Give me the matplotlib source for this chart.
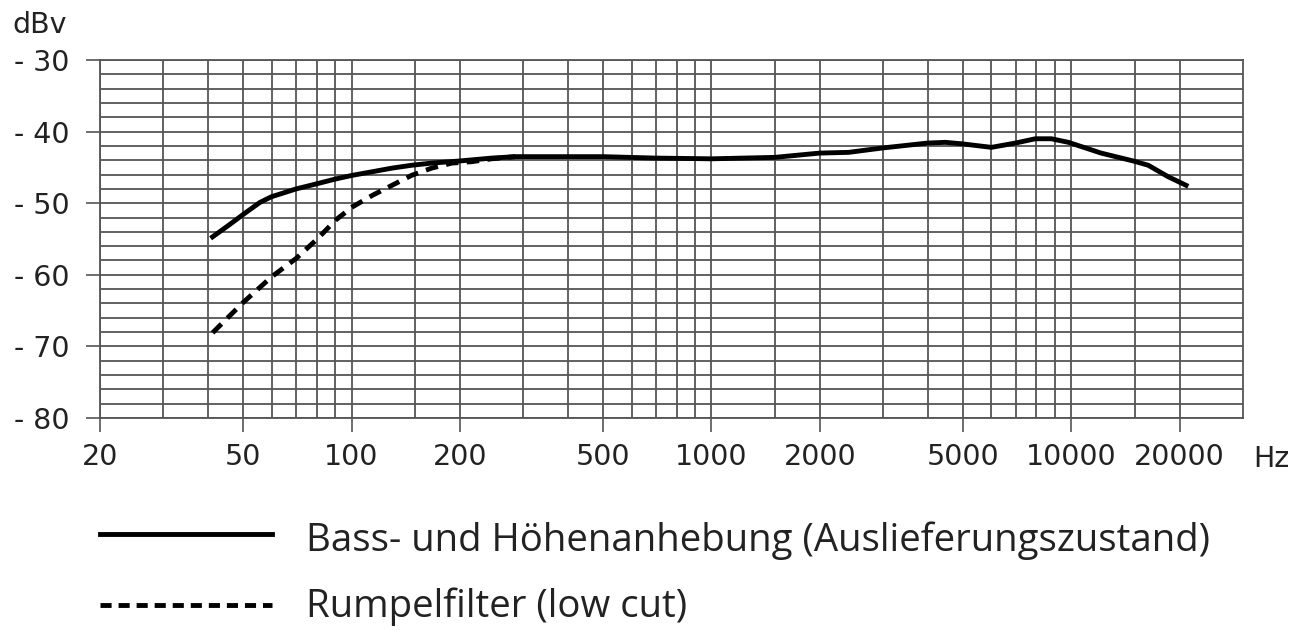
import matplotlib
matplotlib.use("Agg")
import matplotlib.pyplot as plt
from matplotlib.lines import Line2D
from matplotlib.ticker import FixedLocator, NullFormatter, FixedFormatter

plt.rcParams['font.family'] = ['DejaVu Sans']
plt.rcParams['lines.scale_dashes'] = False

# ---- data ----
freq_solid = [41.1, 45.5, 49.9, 55.6, 59.9, 70.2, 79.9, 90.6, 100.7, 114.3, 129.6, 147, 167,
              200, 245, 285, 300, 500, 700, 1000, 1500, 2000, 2406, 2972, 3988,
              4470, 4954, 6000, 6994, 7944, 8800, 9820, 12100, 14860, 16360, 18580, 20840]
db_solid = [-54.7, -53.1, -51.6, -49.9, -49.1, -48.0, -47.3, -46.6, -46.1, -45.6, -45.1, -44.7, -44.4,
            -44.1, -43.7, -43.5, -43.5, -43.5, -43.7, -43.8, -43.6, -43.0, -42.9, -42.3, -41.6,
            -41.5, -41.7, -42.2, -41.6, -41.0, -41.0, -41.5, -43.0, -44.1, -44.7, -46.3, -47.5]

freq_dash = [41.1, 49.9, 59.9, 70.2, 79.9, 90.6, 100.7, 114.3, 129.6, 147, 167, 190,
             216, 245, 285]
db_dash = [-68.1, -63.9, -60.3, -57.7, -55.1, -52.3, -50.5, -48.9, -47.5, -46.1, -45.1, -44.4,
           -44.2, -43.8, -43.5]

x_major = [20, 50, 100, 200, 500, 1000, 2000, 5000, 10000, 20000]
x_labels = ["20", "50", "100", "200", "500", "1000", "2000", "5000", "10000", "20000"]
x_minor = [30, 40, 60, 70, 80, 90, 150, 300, 400, 600, 700, 800, 900, 1500,
           3000, 4000, 6000, 7000, 8000, 9000, 15000]
y_major = [-30, -40, -50, -60, -70, -80]
y_labels = ["- 30", "- 40", "- 50", "- 60", "- 70", "- 80"]
y_minor = [v for v in range(-78, -30, 2) if v % 10 != 0]

legend_labels = ["Bass- und Höhenanhebung (Auslieferungszustand)", "Rumpelfilter (low cut)"]

# ---- figure ----
W, H = 1296, 634
fig = plt.figure(figsize=(W / 100, H / 100), dpi=100)
ax = fig.add_axes([100 / W, 1 - 418 / H, (1243 - 100) / W, (418 - 60) / H])

ax.set_xscale('log')
ax.set_xlim(20, 30000)
ax.set_ylim(-80, -30)

gcol = '#555555'
txt = '#222222'
tick_fs = 20.5

ax.xaxis.set_major_locator(FixedLocator(x_major))
ax.xaxis.set_major_formatter(FixedFormatter(x_labels))
ax.xaxis.set_minor_locator(FixedLocator(x_minor))
ax.xaxis.set_minor_formatter(NullFormatter())
ax.yaxis.set_major_locator(FixedLocator(y_major))
ax.yaxis.set_major_formatter(FixedFormatter(y_labels))
ax.yaxis.set_minor_locator(FixedLocator(y_minor))

ax.tick_params(which='major', direction='out', length=10, width=1.2, color=gcol,
               labelsize=tick_fs, labelcolor=txt)
ax.tick_params(axis='x', which='major', pad=8)
ax.tick_params(axis='y', which='major', pad=12)
ax.tick_params(which='minor', length=0)

ax.grid(True, which='both', color=gcol, linewidth=1.3)
ax.set_axisbelow(True)
for s in ax.spines.values():
    s.set_color(gcol)
    s.set_linewidth(1.3)

lw = 3.5
ax.plot(freq_dash, db_dash, color='black', linewidth=lw, linestyle=(0, (9, 6)),
        solid_capstyle='butt', dash_capstyle='butt', zorder=3)
ax.plot(freq_solid, db_solid, color='black', linewidth=lw, zorder=4)

# axis unit labels
fig.text(12 / W, 1 - 25 / H, "dBv", fontsize=tick_fs, color=txt, ha='left', va='center')
fig.text(1253 / W, 1 - 459 / H, "Hz", fontsize=tick_fs, color=txt, ha='left', va='center')

# legend
leg_font = ['Open Sans', 'DejaVu Sans']
leg_fs = 27.6
fig.add_artist(Line2D([100 / W, 272 / W], [1 - 534 / H, 1 - 534 / H], color='black',
                      linewidth=lw, transform=fig.transFigure))
fig.add_artist(Line2D([100 / W, 272 / W], [1 - 605 / H, 1 - 605 / H], color='black',
                      linewidth=lw, linestyle=(0, (8, 5)), dash_capstyle='butt',
                      transform=fig.transFigure))
fig.text(306 / W, 1 - 541 / H, legend_labels[0], fontsize=leg_fs, color=txt,
         family=leg_font, ha='left', va='center')
fig.text(306 / W, 1 - 607 / H, legend_labels[1], fontsize=leg_fs, color=txt,
         family=leg_font, ha='left', va='center')

fig.savefig("out.png", dpi=100, facecolor='white')
